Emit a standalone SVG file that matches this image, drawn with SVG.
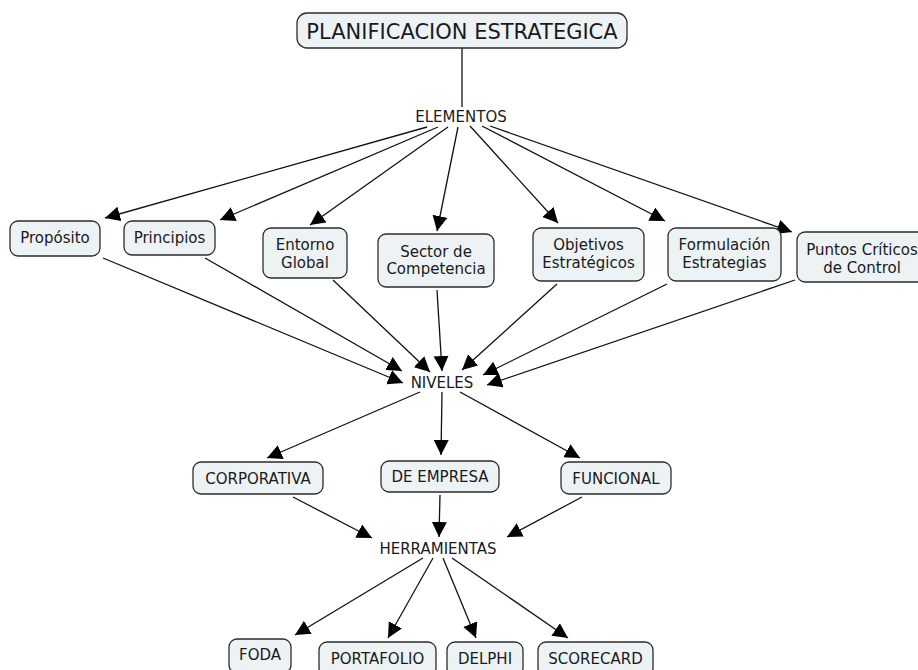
<svg xmlns="http://www.w3.org/2000/svg" width="918" height="670" viewBox="0 0 918 670">
  <style>
    .box { fill: #edf2f5; stroke: #2b2b2b; stroke-width: 1.3; }
    .t { font-family: "DejaVu Sans", Verdana, sans-serif; font-size: 15px; fill: #1a1a1a; text-anchor: middle; }
    .title { font-size: 21px; }
    .link { stroke: #111; stroke-width: 1.3; fill: none; marker-end: url(#arrow); }
    .plain { stroke: #111; stroke-width: 1.3; fill: none; }
  </style>
  <defs>
    <marker id="arrow" markerUnits="userSpaceOnUse" markerWidth="17" markerHeight="16" refX="15" refY="7.5" orient="auto">
      <path d="M0,0 L15,7.5 L0,15 Z" fill="#000"/>
    </marker>
  </defs>
  <rect width="918" height="670" fill="#ffffff"/>

  <!-- connectors -->
  <g id="connectors">
    <line class="plain" x1="462" y1="48" x2="462" y2="107"/>
    <!-- ELEMENTOS to each element -->
    <line class="link" x1="427" y1="127" x2="105" y2="218"/>
    <line class="link" x1="438" y1="127" x2="220" y2="220"/>
    <line class="link" x1="448" y1="127" x2="310" y2="225"/>
    <line class="link" x1="458" y1="127" x2="437" y2="231"/>
    <line class="link" x1="470" y1="126" x2="558" y2="223"/>
    <line class="link" x1="482" y1="126" x2="665" y2="221"/>
    <line class="link" x1="490" y1="126" x2="792" y2="232"/>
    <!-- elements to NIVELES -->
    <line class="link" x1="103" y1="258" x2="403" y2="383"/>
    <line class="link" x1="205" y1="258" x2="402" y2="371"/>
    <line class="link" x1="333" y1="280" x2="430" y2="372"/>
    <line class="link" x1="437" y1="290" x2="442" y2="371"/>
    <line class="link" x1="557" y1="284" x2="462" y2="370"/>
    <line class="link" x1="667" y1="284" x2="483" y2="375"/>
    <line class="link" x1="795" y1="280" x2="487" y2="385"/>
    <!-- NIVELES to levels -->
    <line class="link" x1="420" y1="392" x2="267" y2="458"/>
    <line class="link" x1="442" y1="392" x2="441" y2="455"/>
    <line class="link" x1="460" y1="392" x2="580" y2="458"/>
    <!-- levels to HERRAMIENTAS -->
    <line class="link" x1="293" y1="497" x2="372" y2="538"/>
    <line class="link" x1="440" y1="495" x2="439" y2="537"/>
    <line class="link" x1="582" y1="497" x2="507" y2="537"/>
    <!-- HERRAMIENTAS to tools -->
    <line class="link" x1="423" y1="558" x2="295" y2="635"/>
    <line class="link" x1="433" y1="558" x2="388" y2="638"/>
    <line class="link" x1="443" y1="558" x2="476" y2="638"/>
    <line class="link" x1="452" y1="558" x2="568" y2="638"/>
  </g>

  <g id="planificacion">
    <rect class="box" x="297" y="13" width="330" height="35" rx="10"/>
    <text class="t title" x="462" y="38.5">PLANIFICACION ESTRATEGICA</text>
  </g>

  <g id="elementos">
    <text class="t" x="461" y="121.5">ELEMENTOS</text>
  </g>

  <g id="proposito">
    <rect class="box" x="10" y="221" width="90" height="35" rx="8"/>
    <text class="t" x="55" y="243.3">Propósito</text>
  </g>
  <g id="principios">
    <rect class="box" x="124" y="221" width="91" height="34" rx="8"/>
    <text class="t" x="169.5" y="243">Principios</text>
  </g>
  <g id="entorno">
    <rect class="box" x="263" y="228" width="84" height="50" rx="8"/>
    <text class="t" x="305" y="249.5">Entorno</text>
    <text class="t" x="305" y="267.5">Global</text>
  </g>
  <g id="sector">
    <rect class="box" x="378" y="234" width="116" height="53" rx="8"/>
    <text class="t" x="436" y="256.8">Sector de</text>
    <text class="t" x="436" y="274.3">Competencia</text>
  </g>
  <g id="objetivos">
    <rect class="box" x="533" y="228" width="111" height="53" rx="8"/>
    <text class="t" x="588.5" y="250.2">Objetivos</text>
    <text class="t" x="588.5" y="268.4">Estratégicos</text>
  </g>
  <g id="formulacion">
    <rect class="box" x="668" y="228" width="113" height="53" rx="8"/>
    <text class="t" x="724.5" y="250.2">Formulación</text>
    <text class="t" x="724.5" y="268.4">Estrategias</text>
  </g>
  <g id="puntos">
    <rect class="box" x="797" y="232" width="130" height="50" rx="8"/>
    <text class="t" x="862" y="255.2">Puntos Críticos</text>
    <text class="t" x="862" y="273.2">de Control</text>
  </g>

  <g id="niveles">
    <text class="t" x="442" y="387.5">NIVELES</text>
  </g>

  <g id="corporativa">
    <rect class="box" x="193" y="462" width="130" height="32" rx="8"/>
    <text class="t" x="258" y="483.5">CORPORATIVA</text>
  </g>
  <g id="de-empresa">
    <rect class="box" x="381" y="461" width="118" height="31" rx="8"/>
    <text class="t" x="440" y="482">DE EMPRESA</text>
  </g>
  <g id="funcional">
    <rect class="box" x="561" y="462" width="110" height="32" rx="8"/>
    <text class="t" x="616" y="483.5">FUNCIONAL</text>
  </g>

  <g id="herramientas">
    <text class="t" x="438" y="553.5">HERRAMIENTAS</text>
  </g>

  <g id="foda">
    <rect class="box" x="229" y="639" width="62" height="34" rx="8"/>
    <text class="t" x="260" y="660.2">FODA</text>
  </g>
  <g id="portafolio">
    <rect class="box" x="319" y="642" width="117" height="34" rx="8"/>
    <text class="t" x="377.5" y="663.5">PORTAFOLIO</text>
  </g>
  <g id="delphi">
    <rect class="box" x="447" y="642" width="76" height="34" rx="8"/>
    <text class="t" x="485" y="664">DELPHI</text>
  </g>
  <g id="scorecard">
    <rect class="box" x="538" y="642" width="115" height="34" rx="8"/>
    <text class="t" x="595.5" y="663.5">SCORECARD</text>
  </g>
</svg>
